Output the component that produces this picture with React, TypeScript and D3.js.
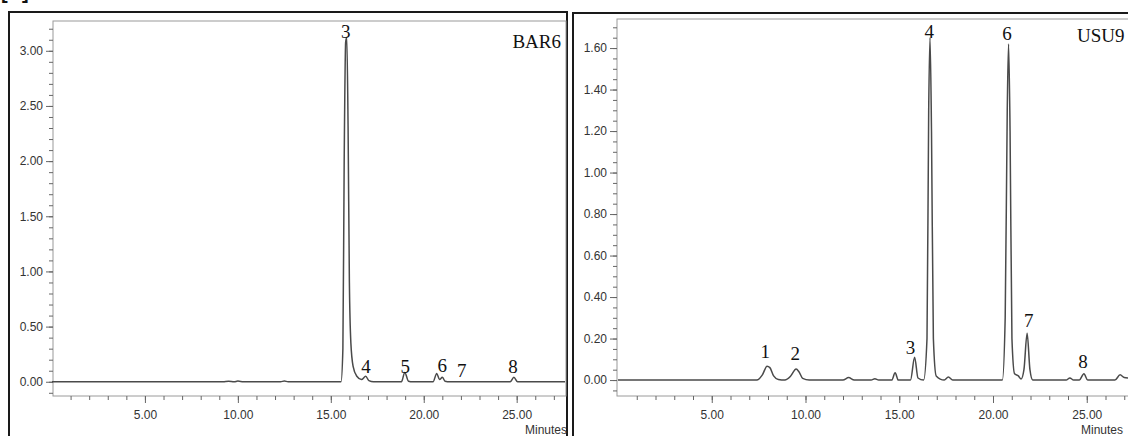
import React, { useEffect, useRef } from "react"
import * as d3 from "d3"

// chromatogram traces: [minutes, AU]
const bar6Trace: [number, number][] = [
	[0, 0], [9.2, 0], [9.5, 0.005], [9.8, 0], [10.0, 0.006], [10.3, 0],
	[12.3, 0], [12.5, 0.007], [12.7, 0], [15.55, 0], [15.65, 0.3], [15.72, 2.0],
	[15.8, 3.08], [15.86, 3.12], [15.93, 2.3], [16.0, 0.9], [16.08, 0.35],
	[16.2, 0.14], [16.4, 0.05], [16.65, 0.02], [16.88, 0.05], [17.05, 0.01],
	[17.3, 0], [18.8, 0], [18.98, 0.085], [19.18, 0.005], [19.4, 0],
	[20.5, 0], [20.7, 0.075], [20.85, 0.02], [21.0, 0.04], [21.15, 0.005],
	[21.4, 0], [24.65, 0], [24.85, 0.04], [25.05, 0], [27.6, 0],
]
const usu9Trace: [number, number][] = [
	[0, 0], [7.4, 0], [7.7, 0.025], [7.95, 0.067], [8.1, 0.06], [8.3, 0.02],
	[8.55, 0.003], [8.9, 0], [9.2, 0.018], [9.5, 0.053], [9.65, 0.04],
	[9.85, 0.008], [10.2, 0], [12.0, 0], [12.3, 0.012], [12.6, 0], [13.5, 0],
	[13.7, 0.006], [13.9, 0], [14.6, 0], [14.78, 0.035], [14.95, 0],
	[15.6, 0], [15.82, 0.11], [16.0, 0.01], [16.3, 0], [16.48, 0.2],
	[16.57, 1.3], [16.64, 1.65], [16.72, 1.2], [16.82, 0.2], [16.97, 0.02],
	[17.4, 0], [17.62, 0.015], [17.85, 0], [20.5, 0], [20.65, 0.3],
	[20.76, 1.3], [20.83, 1.62], [20.91, 1.2], [21.01, 0.2], [21.15, 0.03],
	[21.35, 0.02], [21.5, 0.005], [21.65, 0.05], [21.82, 0.226], [21.97, 0.05],
	[22.12, 0], [23.9, 0], [24.1, 0.01], [24.3, 0], [24.6, 0], [24.85, 0.03],
	[25.05, 0], [26.5, 0], [26.78, 0.025], [27.0, 0.012], [27.2, 0.01],
]

// peak numbers: [minutes, AU at baseline of the text, label]
const bar6Peaks: [number, number, string][] = [
	[15.8, 3.12, "3"], [16.9, 0.08, "4"], [19.0, 0.08, "5"],
	[21.0, 0.09, "6"], [22.05, 0.04, "7"], [24.8, 0.08, "8"],
]
const usu9Peaks: [number, number, string][] = [
	[7.85, 0.106, "1"], [9.45, 0.096, "2"], [15.6, 0.125, "3"],
	[16.6, 1.65, "4"], [20.75, 1.64, "6"], [21.9, 0.255, "7"], [24.8, 0.058, "8"],
]

const xTicks = [5, 10, 15, 20, 25]
const bar6YTicks = [0, 0.5, 1, 1.5, 2, 2.5, 3]
const usu9YTicks = [0, 0.2, 0.4, 0.6, 0.8, 1, 1.2, 1.4, 1.6]

const drawPanel = (svg, opt) => {
	const g = svg.append("g")
	const { x, y, frame } = opt

	// outer black box
	g.append("rect")
		.attr("x", opt.box[0]).attr("y", opt.box[1])
		.attr("width", opt.box[2]).attr("height", 500)
		.attr("fill", "none").attr("stroke", "#1a1a1a").attr("stroke-width", 2)

	// plot frame
	g.append("rect")
		.attr("x", frame[0]).attr("y", frame[1])
		.attr("width", frame[2] - frame[0]).attr("height", frame[3] - frame[1])
		.attr("fill", "none").attr("stroke", "#9a9a9a").attr("stroke-width", 1)

	const fmt = d3.format(".2f")
	const yMajor = d3.axisLeft(y).tickValues(opt.yTicks).tickFormat(fmt).tickSize(7)
	const yMinor = d3.axisLeft(y).tickValues(opt.yMinor).tickFormat(() => "").tickSize(4)
	const xMajor = d3.axisBottom(x).tickValues(xTicks).tickFormat(fmt).tickSize(7)
	const xMinor = d3.axisBottom(x).tickValues(d3.range(1, 28)).tickFormat(() => "").tickSize(4)

	const axisStyle = (a) => {
		a.select(".domain").remove()
		a.selectAll("line").attr("stroke", "#666")
		a.selectAll("text")
			.attr("fill", "#333")
			.style("font-family", "'Liberation Sans', Arial, sans-serif")
			.style("font-size", "12px")
	}
	g.append("g").attr("transform", `translate(${frame[0]},0)`).call(yMinor).call(axisStyle)
	g.append("g").attr("transform", `translate(${frame[0]},0)`).call(yMajor).call(axisStyle)
	g.append("g").attr("transform", `translate(0,${frame[3]})`).call(xMinor).call(axisStyle)
	g.append("g").attr("transform", `translate(0,${frame[3]})`).call(xMajor)
		.call(axisStyle)
		.call((a) => a.selectAll("text").attr("dy", "1.1em"))

	const line = d3.line()
		.x((d) => x(d[0]))
		.y((d) => y(d[1]))
		.curve(d3.curveMonotoneX)
	g.append("path")
		.attr("d", line(opt.trace))
		.attr("fill", "none")
		.attr("stroke", "#4a4a4a")
		.attr("stroke-width", 1.5)

	g.selectAll(".peak")
		.data(opt.peaks)
		.join("text")
		.attr("class", "peak")
		.attr("x", (d) => x(d[0]))
		.attr("y", (d) => y(d[1]))
		.attr("text-anchor", "middle")
		.style("font-family", "'Liberation Serif', 'Times New Roman', serif")
		.style("font-size", "19px")
		.attr("fill", "#111")
		.text((d) => d[2])

	g.append("text")
		.attr("x", opt.name[0]).attr("y", opt.name[1])
		.attr("text-anchor", opt.name[3])
		.style("font-family", "'Liberation Serif', 'Times New Roman', serif")
		.style("font-size", "19px")
		.attr("fill", "#111")
		.text(opt.name[2])

	g.append("text")
		.attr("x", opt.minutes[0]).attr("y", 434)
		.attr("text-anchor", opt.minutes[1])
		.style("font-family", "'Liberation Sans', Arial, sans-serif")
		.style("font-size", "12px")
		.attr("fill", "#333")
		.text("Minutes")
}

const App = () => {
	const svgRef = useRef()

	useEffect(() => {
		const svg = d3.select(svgRef.current)
		svg.selectAll("*").remove()

		// left panel, BAR6
		drawPanel(svg, {
			box: [9, 12, 558],
			frame: [53, 21, 566, 396],
			x: d3.scaleLinear().domain([0, 27.6]).range([52, 565]),
			y: d3.scaleLinear().domain([-0.12, 3.27]).range([395, 21]),
			yTicks: bar6YTicks,
			yMinor: d3.range(-1, 33).map((d) => d / 10),
			trace: bar6Trace,
			peaks: bar6Peaks,
			name: [561, 48, "BAR6", "end"],
			minutes: [567, "end"],
		})

		// right panel, USU9 (cut off by the page edge)
		drawPanel(svg, {
			box: [573, 13, 600],
			frame: [617, 19, 1160, 396],
			x: d3.scaleLinear().domain([0, 27.2]).range([618, 1128]),
			y: d3.scaleLinear().domain([-0.072, 1.74]).range([395, 19]),
			yTicks: usu9YTicks,
			yMinor: d3.range(-1, 35).map((d) => d / 20),
			trace: usu9Trace,
			peaks: usu9Peaks,
			name: [1077, 42, "USU9", "start"],
			minutes: [1081, "start"],
		})

		// panel tag, mostly above the page
		svg.append("text")
			.attr("x", 1).attr("y", -1)
			.style("font-family", "'Liberation Sans', Arial, sans-serif")
			.style("font-size", "20px")
			.style("font-weight", "bold")
			.attr("fill", "#111")
			.text("[B]")
	}, [])

	return (
		<svg
			ref={svgRef}
			width={1128}
			height={436}
			style={{ position: "absolute", left: 0, top: 0, background: "#fff" }}
		/>
	)
}

export default App
